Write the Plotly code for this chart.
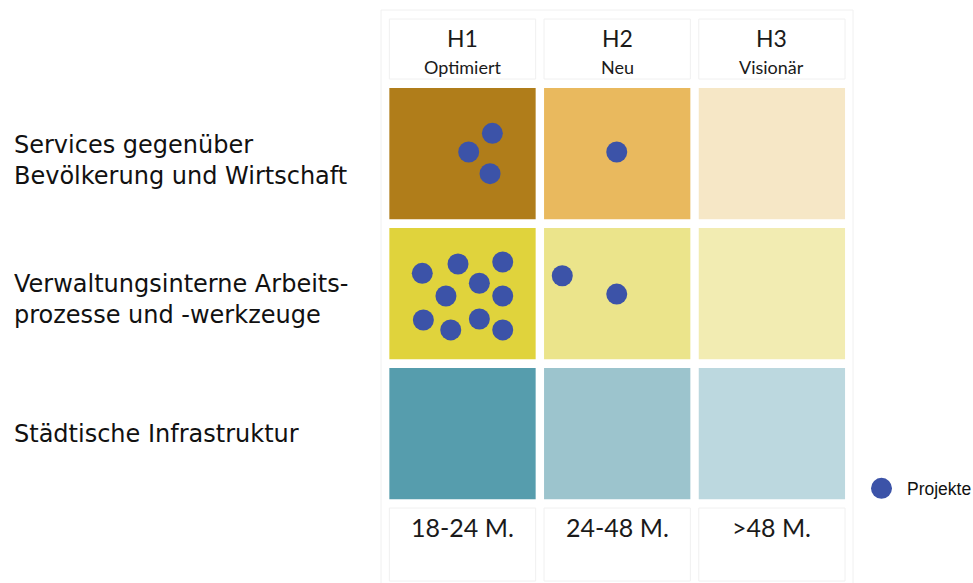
import plotly.graph_objects as go

# ---------------- data ----------------
rows = ["Services gegenüber<br>Bevölkerung und Wirtschaft",
        "Verwaltungsinterne Arbeits-<br>prozesse und -werkzeuge",
        "Städtische Infrastruktur"]
col_titles = ["H1", "H2", "H3"]
col_subtitles = ["Optimiert", "Neu", "Visionär"]
col_durations = ["18-24 M.", "24-48 M.", ">48 M."]

cell_colors = [
    ["#B07D1A", "#E9B95E", "#F6E7C6"],
    ["#E0D33C", "#EBE48B", "#F2ECB2"],
    ["#569DAD", "#9CC4CD", "#BCD8DF"],
]

# projects: cell (row, col) and position inside the cell (offset from cell centre, cell units)
dot_row = [0, 0, 0, 0,
           1, 1, 1, 1, 1, 1, 1, 1, 1, 1,
           1, 1]
dot_col = [0, 0, 0, 1,
           0, 0, 0, 0, 0, 0, 0, 0, 0, 0,
           1, 1]
dot_dx = [0.193, 0.040, 0.178, -0.003,
          -0.260, -0.029, 0.260, 0.109, -0.107, 0.260, -0.253, -0.076, 0.109, 0.260,
          -0.355, -0.003]
dot_dy = [-0.145, -0.012, 0.143, -0.012,
          -0.145, -0.212, -0.226, -0.074, 0.017, 0.017, 0.188, 0.259, 0.181, 0.259,
          -0.128, 0.003]
legend_name = "Projekte"

# ---------------- layout constants ----------------
W, H = 973, 583
PITCH_X, PITCH_Y = 154.7, 140.0
C0X, C0Y = 462.5, 153.65
HW = 146.3 / 2 / PITCH_X
HH = 131.3 / 2 / PITCH_Y

def px2x(p):
    return (p - C0X) / PITCH_X

def px2y(p):
    return (p - C0Y) / PITCH_Y

DOT = "#3C53A8"
BOX = "#F0F0F0"

fig = go.Figure()

shapes = []
# outer faint frame
shapes.append(dict(type="rect", xref="x", yref="y",
                   x0=px2x(381), x1=px2x(853), y0=px2y(10), y1=px2y(590),
                   line=dict(color=BOX, width=1), fillcolor="rgba(0,0,0,0)", layer="below"))
for c in range(3):
    # header box and duration box
    shapes.append(dict(type="rect", xref="x", yref="y", x0=c - HW, x1=c + HW,
                       y0=px2y(19), y1=px2y(79),
                       line=dict(color=BOX, width=1), fillcolor="white", layer="below"))
    shapes.append(dict(type="rect", xref="x", yref="y", x0=c - HW, x1=c + HW,
                       y0=px2y(508), y1=px2y(581),
                       line=dict(color=BOX, width=1), fillcolor="white", layer="below"))
for r in range(3):
    for c in range(3):
        shapes.append(dict(type="rect", xref="x", yref="y",
                           x0=c - HW, x1=c + HW, y0=r - HH, y1=r + HH,
                           fillcolor=cell_colors[r][c], line=dict(width=0), layer="below"))

fig.add_trace(go.Scatter(
    x=[c + dx for c, dx in zip(dot_col, dot_dx)],
    y=[r + dy for r, dy in zip(dot_row, dot_dy)],
    mode="markers", name=legend_name, showlegend=False,
    marker=dict(size=21, color=DOT, line=dict(width=0)),
    hoverinfo="skip"))

# legend marker (manual, to keep full marker size)
fig.add_trace(go.Scatter(
    x=[px2x(881.5)], y=[px2y(488.3)], mode="markers", showlegend=False,
    marker=dict(size=21, color=DOT, line=dict(width=0)), hoverinfo="skip"))

ann = []
for c in range(3):
    ann.append(dict(x=c, y=px2y(37.5), xref="x", yref="y", text=col_titles[c],
                    showarrow=False, xanchor="center", yanchor="middle",
                    font=dict(family="Lato", size=23, color="#1a1a1a")))
    ann.append(dict(x=c, y=px2y(66.5), xref="x", yref="y", text=col_subtitles[c],
                    showarrow=False, xanchor="center", yanchor="middle",
                    font=dict(family="Lato", size=18, color="#1a1a1a")))
    ann.append(dict(x=c, y=px2y(526.5), xref="x", yref="y", text=col_durations[c],
                    showarrow=False, xanchor="center", yanchor="middle",
                    font=dict(family="Lato", size=25, color="#1a1a1a")))

label_y_px = [160, 299, 434]
for r in range(3):
    ann.append(dict(x=12 / W, y=px2y(label_y_px[r]), xref="paper", yref="y",
                    text=rows[r], showarrow=False, xanchor="left", yanchor="middle",
                    align="left",
                    font=dict(family="DejaVu Sans", size=24, color="#111111")))

ann.append(dict(x=px2x(905), y=px2y(488.5), xref="x", yref="y", text=legend_name,
                showarrow=False, xanchor="left", yanchor="middle",
                font=dict(family="Liberation Sans, Arial", size=17.5, color="#111111")))

fig.update_layout(
    width=W, height=H,
    margin=dict(l=0, r=0, t=0, b=0),
    paper_bgcolor="white", plot_bgcolor="white",
    shapes=shapes, annotations=ann,
    xaxis=dict(range=[px2x(0), px2x(W)], visible=False, fixedrange=True),
    yaxis=dict(range=[px2y(H), px2y(0)], visible=False, fixedrange=True),
    showlegend=False,
)

fig.write_html("out.html", config={"displayModeBar": False})
